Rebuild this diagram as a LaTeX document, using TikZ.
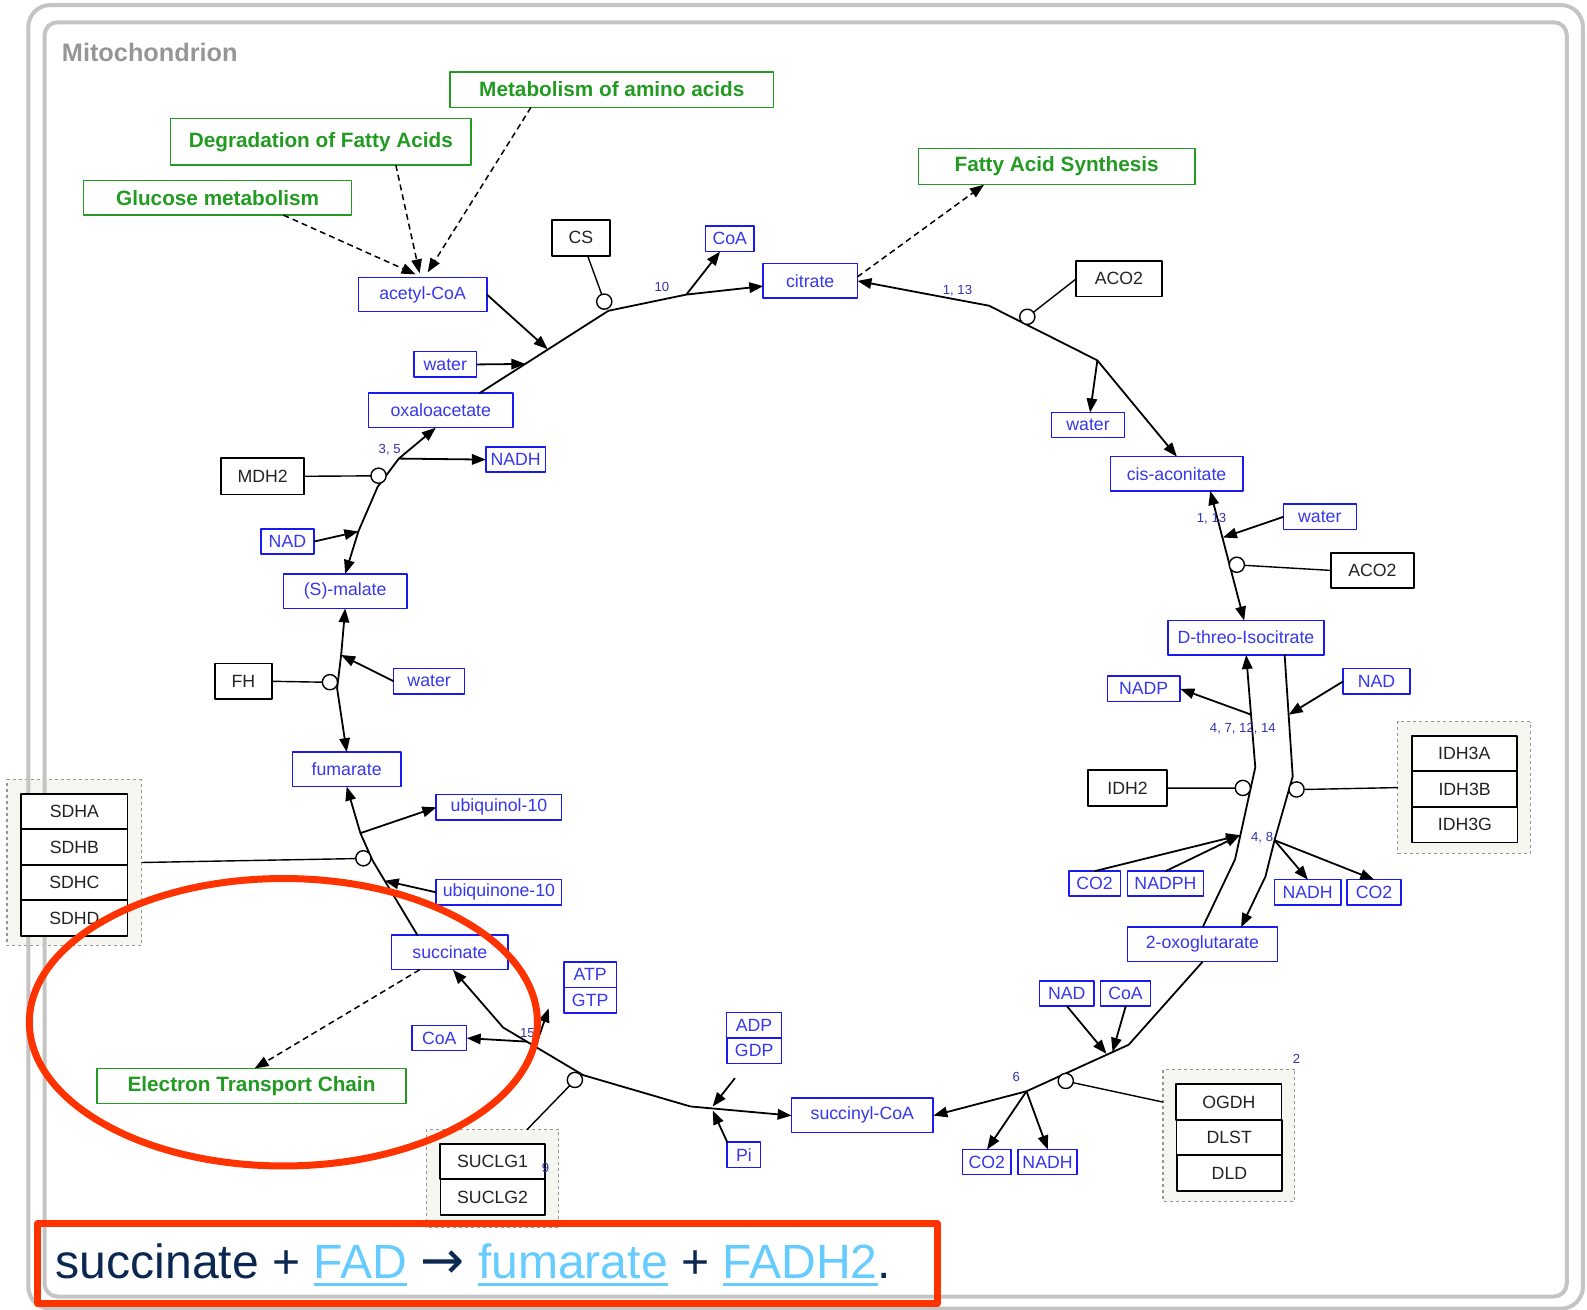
\documentclass[tikz,border=0pt]{standalone}
\usepackage{fontspec}
\setmainfont{Liberation Sans}
\newfontfamily\arrowfont{DejaVu Sans}
\usetikzlibrary{arrows.meta,positioning}

\definecolor{metblue}{RGB}{25,25,240}
\definecolor{mettext}{RGB}{55,55,235}
\definecolor{enztext}{RGB}{35,35,35}
\definecolor{pwgreen}{RGB}{35,155,35}
\definecolor{numblue}{RGB}{50,50,170}
\definecolor{grpfill}{RGB}{246,246,240}
\definecolor{grpline}{RGB}{150,150,150}
\definecolor{framegray}{RGB}{196,196,196}
\definecolor{mitogray}{RGB}{150,150,150}
\definecolor{markred}{RGB}{255,51,0}
\definecolor{eqnavy}{RGB}{12,40,82}
\definecolor{linkblue}{RGB}{102,204,255}

\newsavebox{\lnkbox}
\newcommand{\lnk}[1]{\textcolor{linkblue}{\sbox\lnkbox{#1}\rlap{\rule[-8pt]{\wd\lnkbox}{3pt}}\usebox\lnkbox}}

\begin{document}
\begin{tikzpicture}[x=1pt,y=-1pt,scale=1.0121,transform shape,
  >={Triangle[length=14pt,width=10.5pt]},line join=round,
  box/.style={rectangle,inner sep=0pt,outer sep=0pt,fill=white,font=\fontsize{17.5}{18}\selectfont},
  met/.style={box,draw=metblue,text=mettext,line width=1.5pt,minimum height=34},
  cof/.style={met,minimum height=25},
  enz/.style={box,draw=black,text=enztext,line width=1.8pt,minimum height=35},
  pway/.style={box,draw=pwgreen,text=pwgreen,line width=1.4pt,minimum height=35,font=\bfseries\fontsize{20.5}{22}\selectfont},
  grp/.style={rectangle,draw=grpline,fill=grpfill,dashed,line width=1.2pt,inner sep=0pt,outer sep=0pt},
  cat/.style={circle,draw,fill=white,line width=1.4pt,minimum size=15,inner sep=0pt,outer sep=0pt},
  num/.style={text=numblue,font=\fontsize{13}{13}\selectfont,inner sep=0pt},
  rxn/.style={draw,line width=1.8pt},
  ctl/.style={draw,line width=1.4pt},
  link/.style={draw,line width=1.5pt,dash pattern=on 6pt off 4pt}]
\useasboundingbox (0,0) rectangle (1568,1294);

\node[grp,minimum width=133,minimum height=164] (sdh) at (73.5,852) {};
\node[grp,minimum width=131,minimum height=97] (suclg) at (486.5,1164.5) {};
\node[grp,minimum width=130,minimum height=130] (ogdh) at (1214,1122) {};
\node[grp,minimum width=131,minimum height=130] (idh3) at (1446.5,778) {};

\draw[framegray,line width=4pt,rounded corners=22] (28,5) rectangle (1564,1293);
\draw[framegray,line width=4pt,rounded corners=13] (44,22) rectangle (1548,1281);
\node[anchor=base west,inner sep=0pt,text=mitogray,font=\bfseries\fontsize{25}{25}\selectfont] (mito) at (61,61) {Mitochondrion};

\node[pway,minimum width=320] (aa) at (604.5,88.5) {Metabolism of amino acids};
\node[pway,minimum width=297,minimum height=46] (fadeg) at (317,140) {Degradation of Fatty Acids};
\node[pway,minimum width=265,minimum height=34] (gluc) at (215,195.5) {Glucose metabolism};
\node[pway,minimum width=273,minimum height=36] (fasyn) at (1044,164.5) {Fatty Acid Synthesis};
\node[pway,minimum width=305] (etc) at (248.5,1073) {Electron Transport Chain};

\node[met,minimum width=127] (acetyl) at (417.5,291) {acetyl-CoA};
\node[met,minimum width=93] (citrate) at (800.5,277.5) {citrate};
\node[met,minimum width=143] (oxalo) at (435.5,405.5) {oxaloacetate};
\node[met,minimum width=122] (malate) at (341,584) {(S)-malate};
\node[met,minimum width=107] (fumarate) at (342.5,760) {fumarate};
\node[met,minimum width=115] (succ) at (444.5,941) {succinate};
\node[met,minimum width=140] (succoa) at (852,1102) {succinyl-CoA};
\node[met,minimum width=148] (oxoglu) at (1188,933) {2-oxoglutarate};
\node[met,minimum width=154] (isocit) at (1231,630) {D-threo-Isocitrate};
\node[met,minimum width=131] (cisaco) at (1162.5,468) {cis-aconitate};

\node[cof,minimum width=48] (coa_1) at (721,236) {CoA};
\node[cof,minimum width=62] (water_1) at (440,360) {water};
\node[cof,minimum width=59] (nadh_1) at (509.5,454) {NADH};
\node[cof,minimum width=52] (nad_1) at (284,535) {NAD};
\node[cof,minimum width=70] (water_2) at (424,673) {water};
\node[cof,minimum width=124] (ubqol) at (493,797.5) {ubiquinol-10};
\node[cof,minimum width=124] (ubqon) at (493,881.5) {ubiquinone-10};
\node[cof,minimum width=54] (coa_2) at (434,1025.5) {CoA};
\node[cof,minimum width=52] (atp) at (583,963) {ATP};
\node[cof,minimum width=52,below=0pt of atp] (gtp) {GTP};
\node[cof,minimum width=54] (adp) at (745,1013) {ADP};
\node[cof,minimum width=54,below=0pt of adp] (gdp) {GDP};
\node[cof,minimum width=33] (pi) at (735,1141) {Pi};
\node[cof,minimum width=48] (co2_1) at (975,1148) {CO2};
\node[cof,minimum width=58] (nadh_2) at (1035,1148) {NADH};
\node[cof,minimum width=54] (nad_2) at (1054,981.5) {NAD};
\node[cof,minimum width=49] (coa_3) at (1112,981.5) {CoA};
\node[cof,minimum width=51] (co2_2) at (1081.5,873) {CO2};
\node[cof,minimum width=75] (nadph) at (1151.5,873) {NADPH};
\node[cof,minimum width=66] (nadh_3) at (1292,881.5) {NADH};
\node[cof,minimum width=53] (co2_3) at (1357.5,881.5) {CO2};
\node[cof,minimum width=72] (nadp) at (1130,680.5) {NADP};
\node[cof,minimum width=66] (nad_3) at (1360,673) {NAD};
\node[cof,minimum width=72] (water_3) at (1304,510.5) {water};
\node[cof,minimum width=72] (water_4) at (1075,420) {water};

\node[enz,minimum width=58,minimum height=36] (cs) at (574,235) {CS};
\node[enz,minimum width=85] (aco2_1) at (1105.5,275.5) {ACO2};
\node[enz,minimum width=82] (aco2_2) at (1356,563.5) {ACO2};
\node[enz,minimum width=82,minimum height=36] (mdh2) at (259.5,470.5) {MDH2};
\node[enz,minimum width=56] (fh) at (240.5,673) {FH};
\node[enz,minimum width=78] (idh2) at (1114,778.5) {IDH2};
\node[enz,minimum width=105,below=14pt of sdh.north] (sdha) {SDHA};
\node[enz,minimum width=105,below=0pt of sdha] (sdhb) {SDHB};
\node[enz,minimum width=105,below=0pt of sdhb] (sdhc) {SDHC};
\node[enz,minimum width=105,below=0pt of sdhc] (sdhd) {SDHD};
\node[enz,minimum width=103,below=14pt of suclg.north] (suclg1) {SUCLG1};
\node[enz,minimum width=103,below=0pt of suclg1] (suclg2) {SUCLG2};
\node[enz,minimum width=104,below=14pt of ogdh.north] (ogdha) {OGDH};
\node[enz,minimum width=104,below=0pt of ogdha] (dlst) {DLST};
\node[enz,minimum width=104,below=0pt of dlst] (dld) {DLD};
\node[enz,minimum width=104,below=14pt of idh3.north] (idh3a) {IDH3A};
\node[enz,minimum width=104,below=0pt of idh3a] (idh3b) {IDH3B};
\node[enz,minimum width=104,below=0pt of idh3b] (idh3g) {IDH3G};

\coordinate (cs_w) at (519,359.5);
\coordinate (cs_a) at (541,345);
\coordinate (cs_k) at (601,307);
\coordinate (cs_c) at (678,291);
\coordinate (ac_k) at (977,302);
\coordinate (ac_b) at (1084,356);
\coordinate (ac_w) at (1208,531);
\coordinate (il_1) at (1220,849);
\coordinate (il_2) at (1240,758);
\coordinate (il_p) at (1236,706);
\coordinate (il_c) at (1225,825);
\coordinate (ir_1) at (1277,767);
\coordinate (ir_2) at (1259,830);
\coordinate (ir_3) at (1250,866);
\coordinate (ir_n) at (1273,706);
\coordinate (og_1) at (1115,1032);
\coordinate (og_2) at (1014,1078);
\coordinate (og_n) at (1093,1041);
\coordinate (og_c) at (1099,1039);
\coordinate (su_1) at (682,1093);
\coordinate (su_2) at (576,1062);
\coordinate (su_3) at (497,1015);
\coordinate (su_c) at (521,1029);
\coordinate (su_a) at (529,1034);
\coordinate (su_t) at (542,996);
\coordinate (su_g) at (726,1065);
\coordinate (su_d) at (704,1093);
\coordinate (su_p) at (704,1097);
\coordinate (sd_1) at (356,823);
\coordinate (sd_2) at (368,850);
\coordinate (sd_q) at (380,870);
\coordinate (fh_w) at (337,647);
\coordinate (fh_k) at (333,680);
\coordinate (md_1) at (394,453);
\coordinate (md_2) at (373,481);
\coordinate (md_n) at (354,525);

\draw[rxn,->] ([xshift=38]oxalo.north) -- (cs_k) -- (cs_c) -- (citrate);
\draw[rxn,->] (acetyl.east) -- (cs_a);
\draw[rxn,->] (water_1.east) -- (cs_w);
\draw[rxn,->] (cs_c) -- (coa_1);
\draw[rxn,->] (ac_b) -- (ac_k) -- (citrate.east);
\draw[rxn,->] (ac_b) -- (cisaco.north);
\draw[rxn,->] (ac_b) -- (water_4);
\draw[rxn,<->] ([xshift=33]cisaco.south) -- ([xshift=-2]isocit.north);
\draw[rxn,->] (water_3.west) -- (ac_w);
\draw[rxn,->] (oxoglu.north) -- (il_1) -- (il_2) -- (isocit.south);
\draw[rxn,->] (il_p) -- (nadp.east);
\draw[rxn,->] (co2_2.north) -- (il_c);
\draw[rxn,->] (nadph.north) -- (il_c);
\draw[rxn,->] ([xshift=38]isocit.south) -- (ir_1) -- (ir_2) -- (ir_3) -- ([xshift=38]oxoglu.north);
\draw[rxn,->] (nad_3.west) -- (ir_n);
\draw[rxn,->] (ir_2) -- (nadh_3.north);
\draw[rxn,->] (ir_2) -- (co2_3.north);
\draw[rxn,->] (oxoglu.south) -- (og_1) -- (og_2) -- (succoa.east);
\draw[rxn,->] (nad_2.south) -- (og_n);
\draw[rxn,->] (coa_3.south) -- (og_c);
\draw[rxn,->] (og_2) -- (co2_1.north);
\draw[rxn,->] (og_2) -- (nadh_2.north);
\draw[rxn,->] (su_1) -- (succoa.west);
\draw[rxn,->] (su_1) -- (su_2) -- (su_3) -- ([xshift=3]succ.south);
\draw[rxn,->] (su_c) -- (coa_2.east);
\draw[rxn,->] (su_a) -- (su_t);
\draw[rxn,->] (su_g) -- (su_d);
\draw[rxn,->] (pi.north west) -- (su_p);
\draw[rxn,->] ([xshift=-32]succ.north) -- (sd_2) -- (sd_1) -- (fumarate.south);
\draw[rxn,->] (sd_1) -- (ubqol.west);
\draw[rxn,->] (ubqon.west) -- (sd_q);
\draw[rxn,<->] (malate.south) -- (fh_w) -- (fh_k) -- (fumarate.north);
\draw[rxn,->] (water_2.west) -- (fh_w);
\draw[rxn,->] (md_1) -- ([xshift=-5]oxalo.south);
\draw[rxn,->] (md_1) -- (nadh_1.west);
\draw[rxn,->] (md_1) -- (md_2) -- (md_n) -- (malate.north);
\draw[rxn,->] (nad_1.east) -- (md_n);

\node[cat] (c_cs) at (597,298) {};
\node[cat] (c_aco1) at (1015,313) {};
\node[cat] (c_aco2) at (1222,558) {};
\node[cat] (c_mdh) at (374,470) {};
\node[cat] (c_fh) at (326,674) {};
\node[cat] (c_sdh) at (359,848) {};
\node[cat] (c_suc) at (568,1067) {};
\node[cat] (c_ogdh) at (1053,1068) {};
\node[cat] (c_idh2) at (1228,778.5) {};
\node[cat] (c_idh3) at (1281,780) {};

\draw[ctl] (cs) -- (c_cs);
\draw[ctl] (aco2_1.west) -- (c_aco1);
\draw[ctl] (aco2_2.west) -- (c_aco2);
\draw[ctl] (idh2.east) -- (c_idh2);
\draw[ctl] (idh3.west) -- (c_idh3);
\draw[ctl] (ogdh.west |- ogdha) -- (c_ogdh);
\draw[ctl] ([xshift=34]suclg.north) -- (c_suc);
\draw[ctl] (sdh.east) -- (c_sdh);
\draw[ctl] (fh.east) -- (c_fh);
\draw[ctl] (mdh2.east) -- (c_mdh);

\draw[link,->] ([xshift=65]gluc.south) -- ([xshift=-7,yshift=3]acetyl.north);
\draw[link,->] ([xshift=74]fadeg.south) -- ([xshift=-3,yshift=4]acetyl.north);
\draw[link,->] ([xshift=-80]aa.south) -- ([xshift=5,yshift=5]acetyl.north);
\draw[link,->] ([yshift=4]citrate.east) -- ([xshift=-72]fasyn.south);
\draw[link,->] ([xshift=-30]succ.south) -- ([xshift=3]etc.north);

\node[num] (n_cs) at (654,284) {10};
\node[num] (n_aco1) at (946,287) {1, 13};
\node[num] (n_aco2) at (1197,513) {1, 13};
\node[num] (n_idhl) at (1228,720) {4, 7, 12, 14};
\node[num] (n_idhr) at (1247,828) {4, 8};
\node[num] (n_ogdh) at (1004,1064) {6};
\node[num] (n_grp) at (1281,1046) {2};
\node[num] (n_suc) at (521,1021) {15};
\node[num] (n_sucg) at (539,1154) {9};
\node[num] (n_mdh) at (385,444) {3, 5};

\draw[markred,line width=7pt] (280,1010) ellipse [x radius=251,y radius=142];
\draw[markred,line width=7pt] (37,1209) rectangle (926,1288);
\node[anchor=base west,inner sep=0pt,text=eqnavy,font=\fontsize{47.5}{48}\selectfont] (eqn) at (55,1263)
  {succinate + \lnk{FAD} {\arrowfont\fontsize{52}{52}\selectfont →} \lnk{fumarate} + \lnk{FADH2}.};
\end{tikzpicture}
\end{document}
